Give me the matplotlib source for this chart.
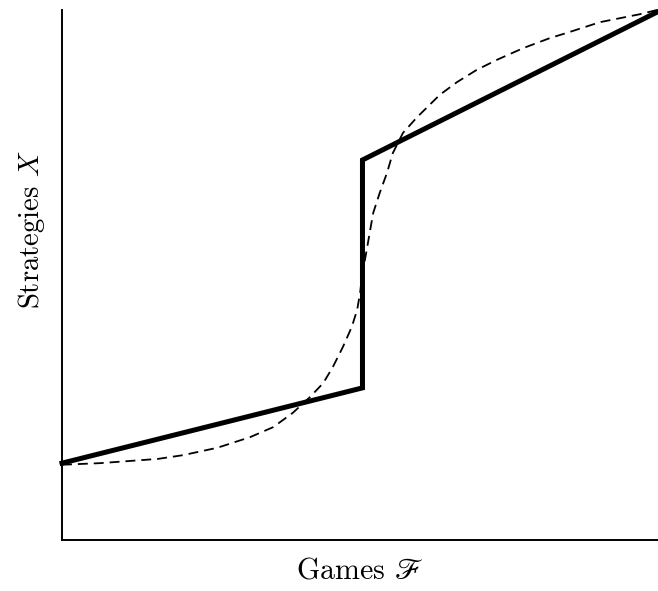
import matplotlib
matplotlib.use("Agg")
import matplotlib.pyplot as plt

plt.rcParams['font.family'] = 'serif'
plt.rcParams['font.serif'] = ['cmr10', 'DejaVu Serif']
plt.rcParams['mathtext.fontset'] = 'cm'
plt.rcParams['axes.formatter.use_mathtext'] = True

# piecewise solid curve (normalised axes units)
solid_x = [0.0, 0.505, 0.505, 1.0]
solid_y = [0.145, 0.287, 0.717, 0.996]

# smooth dashed curve
dash_x = [0.0, 0.064, 0.161, 0.203, 0.261, 0.316, 0.355, 0.388, 0.417, 0.439,
          0.455, 0.472, 0.487, 0.496, 0.501, 0.504, 0.513, 0.523, 0.534, 0.546,
          0.556, 0.573, 0.597, 0.635, 0.664, 0.697, 0.731, 0.775, 0.820, 0.849,
          0.904, 0.971, 1.0]
dash_y = [0.142, 0.145, 0.153, 0.160, 0.174, 0.194, 0.213, 0.240, 0.270, 0.296,
          0.326, 0.364, 0.402, 0.434, 0.466, 0.496, 0.553, 0.617, 0.655, 0.692,
          0.730, 0.768, 0.798, 0.840, 0.864, 0.887, 0.906, 0.928, 0.947, 0.957,
          0.977, 0.992, 1.0]

fig = plt.figure(figsize=(6.58, 5.91), dpi=100)
ax = fig.add_axes([62/658, 51/591, 595/658, 530/591])

ax.plot(dash_x, dash_y, color='black', lw=1.3, dashes=(5.5, 3.3), clip_on=False)
ax.plot(solid_x, solid_y, color='black', lw=3.6, solid_joinstyle='miter', clip_on=False)

ax.set_xlim(0, 1)
ax.set_ylim(0, 1)
ax.spines['top'].set_visible(False)
ax.spines['right'].set_visible(False)
ax.spines['left'].set_linewidth(1.4)
ax.spines['bottom'].set_linewidth(1.4)
ax.set_xticks([])
ax.set_yticks([])

ax.set_xlabel(r'Games $\mathscr{F}$', fontsize=21.5, labelpad=12, math_fontfamily='stix')
ax.set_ylabel(r'Strategies $X$', fontsize=20.7)
ax.yaxis.set_label_coords(-0.025, 0.585)

fig.savefig('out.png', dpi=100, facecolor='white')
